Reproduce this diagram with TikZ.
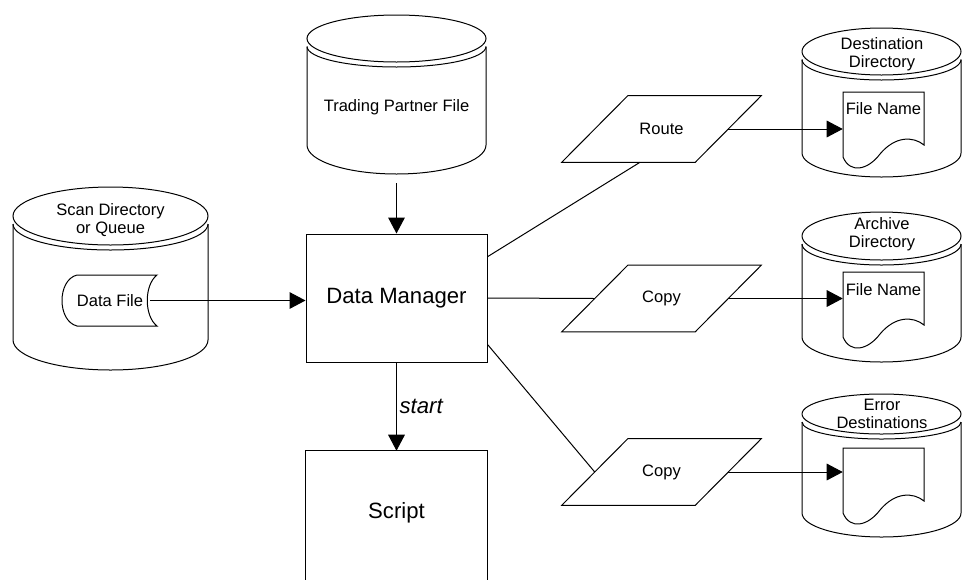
\documentclass[tikz,border=0pt]{standalone}
\usepackage{fontspec}
\setmainfont{Liberation Sans}
\usetikzlibrary{calc,arrows.meta}

\tikzset{
  shp/.style={draw=black, line width=0.75pt},
  arr/.style={draw=black, line width=0.75pt, -{Triangle[length=12pt,width=12.5pt]}},
  ln/.style={draw=black, line width=0.75pt},
  small/.style={font=\fontsize{12.4}{13.2}\selectfont, align=center, inner sep=0pt},
  big/.style={font=\fontsize{16.6}{19}\selectfont, inner sep=0pt},
  docbox/.style={minimum width=60.75pt, minimum height=40.5pt, inner sep=0pt},
  parabox/.style={minimum width=99.75pt, minimum height=49.5pt, inner sep=0pt, font=\fontsize{12.4}{13}\selectfont}
}

% cylinder: cx, ytop, half width, top ry, side bottom y, bottom depth
\newcommand\mycyl[6]{%
 \draw[shp] ({#1-#3},{#2+#4}) .. controls ({#1-#3},{#2+#4-0.5523*#4}) and ({#1-0.5523*#3},{#2}) .. ({#1},{#2})
   .. controls ({#1+0.5523*#3},{#2}) and ({#1+#3},{#2+#4-0.5523*#4}) .. ({#1+#3},{#2+#4})
   .. controls ({#1+#3},{#2+#4+0.5523*#4}) and ({#1+0.5523*#3},{#2+2*#4}) .. ({#1},{#2+2*#4})
   .. controls ({#1-0.5523*#3},{#2+2*#4}) and ({#1-#3},{#2+#4+0.5523*#4}) .. cycle;
 \draw[shp] ({#1-#3},{#2+#4+8}) .. controls ({#1-#3},{#2+#4+8+0.5523*(#4-3)}) and ({#1-0.5523*#3},{#2+2*#4+5}) .. ({#1},{#2+2*#4+5})
   .. controls ({#1+0.5523*#3},{#2+2*#4+5}) and ({#1+#3},{#2+#4+8+0.5523*(#4-3)}) .. ({#1+#3},{#2+#4+8});
 \draw[shp] ({#1-#3},{#2+#4+8}) -- ({#1-#3},{#5})
   .. controls ({#1-#3},{#5+0.5523*#6}) and ({#1-0.5523*#3},{#5+#6}) .. ({#1},{#5+#6})
   .. controls ({#1+0.5523*#3},{#5+#6}) and ({#1+#3},{#5+0.5523*#6}) .. ({#1+#3},{#5}) -- ({#1+#3},{#2+#4+8});
}
% document shape: left x, top y
\newcommand\mydoc[2]{%
 \draw[shp] (#1,#2) -- ({#1+81},#2) -- ({#1+81},{#2+53})
   .. controls ({#1+70},{#2+44}) and ({#1+52},{#2+44}) .. ({#1+37},{#2+62})
   .. controls ({#1+25},{#2+78}) and ({#1+7},{#2+82}) .. (#1,{#2+65}) -- cycle;
}
% parallelogram around a named node
\newcommand\mypara[1]{%
 \draw[shp] ($(#1.south west)+(-33,0)$) -- ($(#1.north west)+(33,0)$) -- ($(#1.north east)+(33,0)$) -- ($(#1.south east)+(-33,0)$) -- cycle;
}

\begin{document}
\begin{tikzpicture}[x=0.75pt,y=-0.75pt]
\useasboundingbox (0,0) rectangle (962,579);

% ---------- cylinders ----------
\mycyl{110.5}{187}{97.5}{29}{340}{30}
\mycyl{396.5}{15}{89.5}{23.5}{145}{29}
\mycyl{881.5}{28}{79.5}{23.5}{153}{24}
\mycyl{881.5}{212}{79.5}{24}{337}{25}
\mycyl{881.5}{394}{79.5}{20}{513}{24}

\node[small] (scanlbl) at (110.5,220) {Scan Directory\\or Queue};
\node[small] (tp) at (396.5,107) {Trading Partner File};
\node[small] (destlbl) at (882,54) {Destination\\Directory};
\node[small] (archlbl) at (882,234) {Archive\\Directory};
\node[small] (errlbl) at (882,414) {Error\\Destinations};

% ---------- data file ----------
\draw[shp] (77,275) -- (157,275) .. controls (144,285) and (144,316) .. (157,326) -- (77,326)
  .. controls (57,321) and (57,280) .. cycle;
\node[small, minimum width=60pt, minimum height=38pt] (df) at (110,300.5) {Data File};

% ---------- main boxes ----------
\node[shp, big, minimum width=135.75pt, minimum height=96pt] (dm) at (396.5,298) {Data Manager};
\node[big, minimum width=135.75pt, minimum height=93pt] (script) at (396.5,513) {Script};
\draw[shp] ($(script.south west)+(0,8)$) -- (script.north west) -- (script.north east) -- ($(script.south east)+(0,8)$);

\coordinate (tpbase) at (396.5,183);

% ---------- parallelograms ----------
\node[parabox] (route) at (661.5,129) {Route};
\node[parabox] (copya) at (661.5,298.5) {Copy};
\node[parabox] (copyb) at (661.5,472) {Copy};
\mypara{route}
\mypara{copya}
\mypara{copyb}

% ---------- documents ----------
\mydoc{843}{92}
\mydoc{843}{272}
\mydoc{843}{448}
\node[docbox] (destdoc) at (883.5,119) {};
\node[docbox] (archdoc) at (883.5,299) {};
\node[docbox] (errdoc) at (883.5,475) {};
\node[small] (destname) at (883.5,109) {File Name};
\node[small] (archname) at (883.5,290) {File Name};

% ---------- connectors ----------
\draw[arr] (tpbase) -- (dm.north);
\draw[arr] (df.east) -- (df.east -| dm.west);
\draw[arr] (dm.south) -- node[midway, right, inner sep=2pt, font=\fontsize{16.6}{19}\selectfont\itshape] {start} (script.north);
\draw[ln] ($(dm.north east)!0.18!(dm.south east)$) -- ($(route.south)+(-21.5,0)$);
\draw[ln] (dm.east) -- (copya.west);
\draw[ln] ($(dm.north east)!0.86!(dm.south east)$) -- (copyb.west);
\draw[arr] (route.east) -- (route.east -| destdoc.west);
\draw[arr] (copya.east) -- (copya.east -| archdoc.west);
\draw[arr] (copyb.east) -- (copyb.east -| errdoc.west);
\end{tikzpicture}
\end{document}
